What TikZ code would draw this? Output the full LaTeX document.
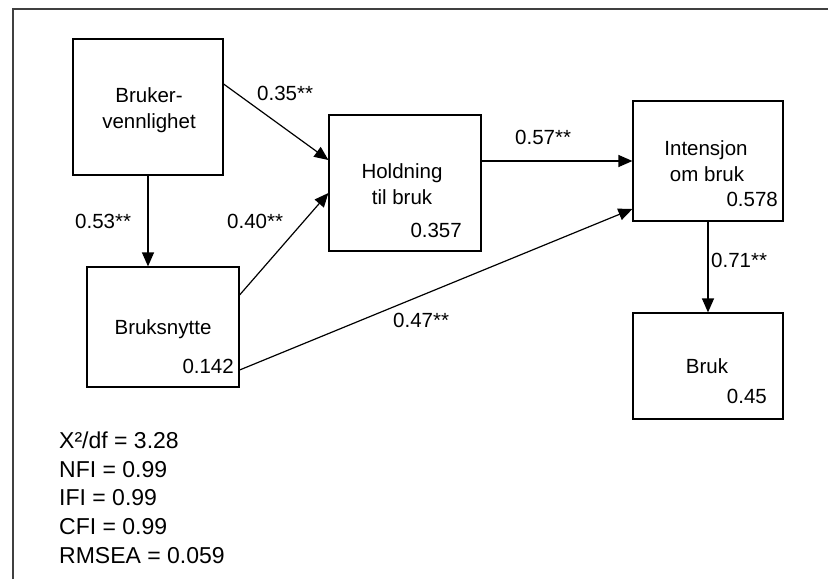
\documentclass[tikz,border=0pt]{standalone}
\usepackage{fontspec}
\setmainfont{Liberation Sans}
\usetikzlibrary{arrows.meta}
\begin{document}
\begin{tikzpicture}[x=1pt,y=-1pt,
  box/.style={draw,line width=1.2pt,inner sep=0pt},
  lbl/.style={inner sep=0pt,font=\fontsize{20.5}{26}\selectfont},
  stat/.style={inner sep=0pt,anchor=base west,font=\fontsize{23}{28}\selectfont},
  arr/.style={line width=1.2pt,-{Triangle[length=14pt,width=12pt]}}]
\useasboundingbox (0,0) rectangle (828,579);
\fill[white] (0,0) rectangle (828,579);
\draw[line width=1.6pt,black!75] (13,579) -- (13,9) -- (828,9);
% boxes
\node[box,minimum width=150pt,minimum height=136pt] (bv) at (148,107) {};
\node[box,minimum width=152pt,minimum height=120pt] (bn) at (163,327) {};
\node[box,minimum width=152pt,minimum height=136pt] (ho) at (405,183) {};
\node[box,minimum width=150pt,minimum height=120pt] (in) at (708,161) {};
\node[box,minimum width=150pt,minimum height=106pt] (br) at (708,366) {};
% box texts
\node[lbl,anchor=base] (t1) at (149,102) {Bruker-};
\node[lbl,anchor=base] (t2) at (149,128) {vennlighet};
\node[lbl,anchor=base] (t3) at (163,334) {Bruksnytte};
\node[lbl,anchor=base east] (t4) at (234,373) {0.142};
\node[lbl,anchor=base] (t5) at (402,178) {Holdning};
\node[lbl,anchor=base] (t6) at (402,204) {til bruk};
\node[lbl,anchor=base east] (t7) at (462,237) {0.357};
\node[lbl,anchor=base] (t8) at (706,155) {Intensjon};
\node[lbl,anchor=base] (t9) at (707,181) {om bruk};
\node[lbl,anchor=base east] (t10) at (778,206) {0.578};
\node[lbl,anchor=base] (t11) at (707,373) {Bruk};
\node[lbl,anchor=base east] (t12) at (767,403) {0.45};
% arrows
\draw[arr] ([yshift=23pt]bv.east) -- ([yshift=23pt]ho.west);
\draw[arr] ([xshift=-15pt]bn.north |- bv.south) -- ([xshift=-15pt]bn.north);
\draw[arr] ([yshift=32pt]bn.east) -- ([yshift=-10pt]ho.west);
\draw[arr] ([yshift=-43pt]bn.east) -- ([yshift=-48pt]in.west);
\draw[arr] (ho.east |- in.west) -- (in.west);
\draw[arr] (in.south) -- (br.north);
% path labels
\node[lbl,anchor=base west] (l1) at (257,100) {0.35**};
\node[lbl,anchor=base west] (l2) at (75,228) {0.53**};
\node[lbl,anchor=base west] (l3) at (227,228) {0.40**};
\node[lbl,anchor=base west] (l4) at (515,144) {0.57**};
\node[lbl,anchor=base west] (l5) at (711,267) {0.71**};
\node[lbl,anchor=base west] (l6) at (393,327) {0.47**};
% fit statistics
\node[stat] (s1) at (59,448) {X²/df = 3.28};
\node[stat] (s2) at (59,477) {NFI = 0.99};
\node[stat] (s3) at (59,505) {IFI = 0.99};
\node[stat] (s4) at (59,534) {CFI = 0.99};
\node[stat] (s5) at (59,563) {RMSEA = 0.059};
\end{tikzpicture}
\end{document}
